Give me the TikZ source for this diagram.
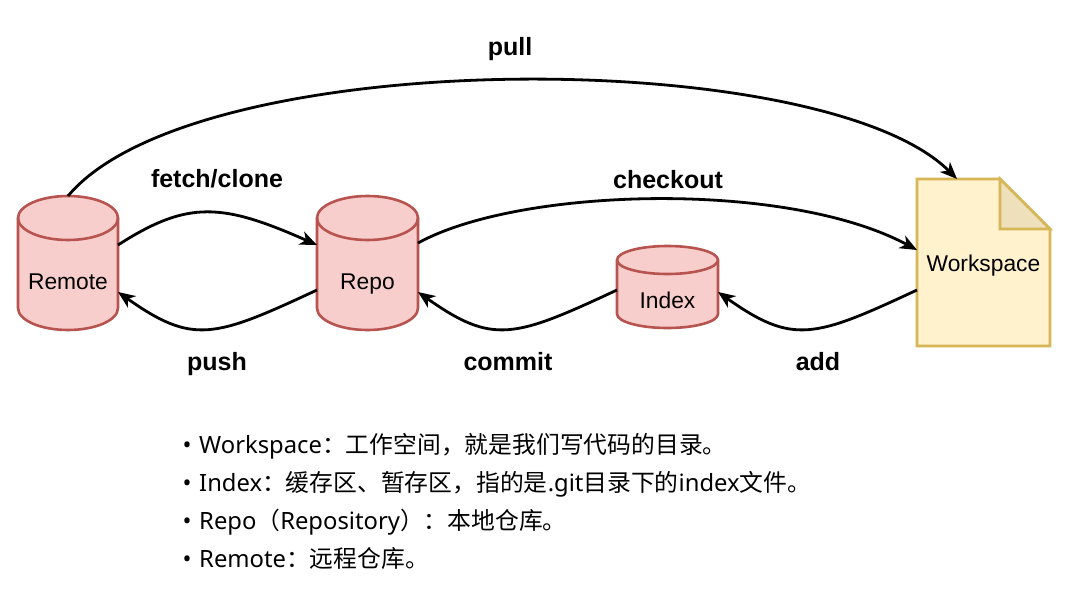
\documentclass[tikz,border=0pt]{standalone}
\usepackage{fontspec}
\setmainfont{Liberation Sans}
\newfontfamily\cjk{Noto Sans CJK SC}
\newfontfamily\lat{Noto Sans}
\usetikzlibrary{arrows.meta,calc}
\definecolor{cylfill}{HTML}{F8CECC}
\definecolor{cylline}{HTML}{B85450}
\definecolor{docfill}{HTML}{FFF2CC}
\definecolor{docline}{HTML}{D6B656}
\definecolor{docfold}{HTML}{EDE0BA}
\tikzset{
  cylshape/.style={fill=cylfill, draw=cylline, line width=2.6pt},
  docshape/.style={fill=docfill, draw=docline, line width=2.6pt, line join=miter},
  box/.style={inner sep=0pt, outer sep=0pt},
  nlbl/.style={font=\fontsize{22.8}{26}\selectfont, inner sep=0pt},
  elbl/.style={font=\fontsize{25}{29}\selectfont\bfseries, inner sep=0pt},
  btext/.style={font=\fontsize{23.8}{28}\selectfont, inner sep=0pt},
  arr/.style={line width=2.8pt, -{Stealth[length=17pt,width=14pt,inset=5pt]}},
}
\newcommand\mycyl[5]{% cx, top, bottom, rx, ry
  \filldraw[cylshape] ({#1-#4},{#2+#5}) -- ({#1-#4},{#3-#5})
    arc[start angle=180,end angle=360,x radius=#4pt,y radius=#5pt]
    -- ({#1+#4},{#2+#5})
    arc[start angle=0,end angle=180,x radius=#4pt,y radius=#5pt] -- cycle;
  \draw[cylshape,fill=none] ({#1-#4},{#2+#5}) arc[start angle=180,end angle=360,x radius=#4pt,y radius=#5pt];
}
\begin{document}
\begin{tikzpicture}[x=1pt,y=-1pt]
\fill[white] (0,0) rectangle (1072,592);
\useasboundingbox (0,0) rectangle (1072,592);

% shapes
\mycyl{68}{196}{330}{50}{22}
\mycyl{367.5}{196}{330}{50.5}{22}
\mycyl{667.5}{246}{328}{50.5}{14}
\filldraw[docshape] (917,179) -- (1000,179) -- (1050,229) -- (1050,346) -- (917,346) -- cycle;
\filldraw[docshape, fill=docfold] (1000,179) -- (1000,229) -- (1050,229) -- cycle;

% nodes
\node[box, minimum width=100, minimum height=134, label={[nlbl,yshift=-19pt]center:Remote}] (remote) at (68,263) {};
\node[box, minimum width=101, minimum height=134, label={[nlbl,yshift=-21pt]center:Repo}] (repo) at (367.5,263) {};
\node[box, minimum width=101, minimum height=82, label={[nlbl,yshift=-13pt]center:Index}] (index) at (667.5,287) {};
\node[box, minimum width=133, minimum height=167, label={[nlbl,yshift=-3pt]center:Workspace}] (workspace) at (983.5,262.5) {};

% connectors
\draw[arr] (remote.north) .. controls +(127,-152) and +(-134,-134) .. ([xshift=-26.5pt]workspace.north);
\draw[arr] ([yshift=18pt]remote.east) .. controls +(70,-45) and +(-95,-42) .. ([yshift=18pt]repo.west);
\draw[arr] ([yshift=-27pt]repo.west) .. controls +(-103,48) and +(75,53) .. ([yshift=-29pt]remote.east);
\draw[arr] ([yshift=20pt]repo.east) .. controls +(102,-56) and +(-130,-70) .. ([yshift=12.5pt]workspace.west);
\draw[arr] ([yshift=-3pt]index.west) .. controls +(-103,48) and +(75,53) .. ([yshift=-29pt]repo.east);
\draw[arr] ([yshift=-27.5pt]workspace.west) .. controls +(-103,48) and +(75,53) .. ([yshift=-5pt]index.east);

% edge labels
\node[elbl, anchor=base] (lpull) at (510,55) {pull};
\node[elbl, anchor=base] (lfetch) at (217,187) {fetch/clone};
\node[elbl, anchor=base] (lcheckout) at (668,188) {checkout};
\node[elbl, anchor=base] (lpush) at (217,370) {push};
\node[elbl, anchor=base] (lcommit) at (508,370) {commit};
\node[elbl, anchor=base] (ladd) at (818,370) {add};

% bullet list
\node[btext, anchor=base] (b1) at (187,453) {\lat •};
\node[btext, anchor=base] (b2) at (187,491) {\lat •};
\node[btext, anchor=base] (b3) at (187,529) {\lat •};
\node[btext, anchor=base] (b4) at (187,567) {\lat •};
\node[btext, anchor=base west] (t1) at (199,453) {{\lat Workspace}{\cjk ：工作空间，就是我们写代码的目录。}};
\node[btext, anchor=base west] (t2) at (199,491) {{\lat Index}{\cjk ：缓存区、暂存区，指的是}{\lat .git}{\cjk 目录下的}{\lat index}{\cjk 文件。}};
\node[btext, anchor=base west] (t3) at (199,529) {{\lat Repo}{\cjk （}{\lat Repository}{\cjk ）：本地仓库。}};
\node[btext, anchor=base west] (t4) at (199,567) {{\lat Remote}{\cjk ：远程仓库。}};
\end{tikzpicture}
\end{document}
